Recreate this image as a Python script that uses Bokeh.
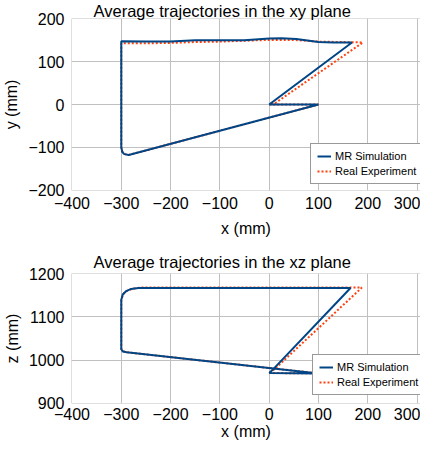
from bokeh.plotting import figure
from bokeh.layouts import column
from bokeh.models import Range1d, Legend, LegendItem, FixedTicker, Title
from bokeh.embed import file_html
from bokeh.resources import INLINE

# xy plane data
xy_sim_x = [0, 100, -285, -294, -298, -300, -300, -300, -250, -200, -150, -100, -50, 0, 25, 55, 100, 130, 168, 0]
xy_sim_y = [0, 0, -118, -116, -111, -100, 100, 148, 147, 147, 150, 150, 150, 154, 155, 153, 146, 145, 145, 0]
xy_exp_x = [0, 100, -285, -292, -298, -300, -300, -250, -200, -150, -100, -50, 0, 50, 100, 190, 12, 0]
xy_exp_y = [0, 0, -118, -116, -110, -100, 143, 143, 144, 146, 147, 149, 151, 151, 147, 145, 3, 0]

# xz plane data
xz_sim_x = [0, 100, -289, -297, -300, -300, -297, -290, -280, -265, 165, 5, 0]
xz_sim_z = [970, 969, 1018, 1020, 1025, 1140, 1152, 1160, 1165, 1167, 1167, 975, 970]
xz_exp_x = [0, 100, -289, -297, -300, -300, -296, -288, -275, -260, 188, 10, 0]
xz_exp_z = [970, 969, 1018, 1021, 1026, 1140, 1153, 1161, 1166, 1168, 1168, 978, 970]

x_ticks = [-400, -300, -200, -100, 0, 100, 200, 300]
y_ticks = [-200, -100, 0, 100, 200]
z_ticks = [900, 1000, 1100, 1200]

BLUE = "#004586"
ORANGE = "#ff420e"
FONT = "Liberation Sans"
GRID = "#c0c0c0"


def make(title, xs, ys, xe, ye, yr, yticks, ylabel, h, top, bottom, legend_loc,
         xlab_standoff, xtick_standoff, title_standoff):
    pad = (yr[1] - yr[0]) * 0.0025
    p = figure(width=420, height=h, output_backend="svg", toolbar_location=None,
               x_range=Range1d(-401, 307), y_range=Range1d(yr[0] - pad, yr[1] + pad),
               min_border_left=69, min_border_right=0,
               min_border_top=top, min_border_bottom=bottom)
    p.title = None
    t = Title(text=title, text_font=FONT, text_font_size="16.5px", text_font_style="normal",
              align="left", offset=22, text_color="#000000", standoff=title_standoff)
    p.add_layout(t, "above")
    p.outline_line_color = None
    for ax, ticks in ((p.xaxis[0], x_ticks), (p.yaxis[0], yticks)):
        ax.ticker = FixedTicker(ticks=ticks)
        ax.axis_line_color = None
        ax.major_tick_line_color = None
        ax.minor_tick_line_color = None
        ax.major_tick_out = 0
        ax.major_label_text_font = FONT
        ax.major_label_text_font_size = "16px"
        ax.major_label_text_color = "#000000"
        ax.axis_label_text_font = FONT
        ax.axis_label_text_font_size = "16px"
        ax.axis_label_text_font_style = "normal"
        ax.axis_label_text_color = "#000000"
    p.xaxis.axis_label = "x (mm)"
    p.yaxis.axis_label = ylabel
    p.xaxis.major_label_standoff = xtick_standoff
    p.xaxis.axis_label_standoff = xlab_standoff
    p.yaxis.major_label_standoff = 7
    p.yaxis.axis_label_standoff = 5
    p.xgrid.ticker = FixedTicker(ticks=x_ticks)
    p.ygrid.ticker = FixedTicker(ticks=yticks)
    p.xgrid.bounds = (yr[0], yr[1])
    p.ygrid.bounds = (-400, 300)
    p.grid.grid_line_color = GRID
    p.grid.grid_line_width = 1

    r_exp = p.line(xe, ye, line_color=ORANGE, line_width=2, line_dash="2 2")
    r_sim = p.line(xs, ys, line_color=BLUE, line_width=2)
    leg = Legend(items=[LegendItem(label="MR Simulation", renderers=[r_sim]),
                        LegendItem(label="Real Experiment", renderers=[r_exp])],
                 location=legend_loc)
    leg.label_text_font = FONT
    leg.label_text_font_size = "11px"
    leg.label_text_color = "#000000"
    leg.glyph_width = 14
    leg.glyph_height = 12
    leg.label_standoff = 4
    leg.label_height = 12
    leg.spacing = 3
    leg.padding = 6
    leg.margin = 0
    leg.border_line_color = "#333333"
    leg.border_line_width = 1
    leg.background_fill_color = "white"
    leg.background_fill_alpha = 1
    p.add_layout(leg, "center")
    return p


p1 = make("Average trajectories in the xy plane", xy_sim_x, xy_sim_y, xy_exp_x, xy_exp_y,
          (-200, 200), y_ticks, "y (mm)", 248, 0, 58, (239, 6), 8, 6, -2)
p2 = make("Average trajectories in the xz plane", xz_sim_x, xz_sim_z, xz_exp_x, xz_exp_z,
          (900, 1200), z_ticks, "z (mm)", 196, 25, 41, (241, 8), 0, 4, 5)

layout = column(p1, p2, spacing=0)
open("out.html", "w").write(file_html(layout, INLINE))
